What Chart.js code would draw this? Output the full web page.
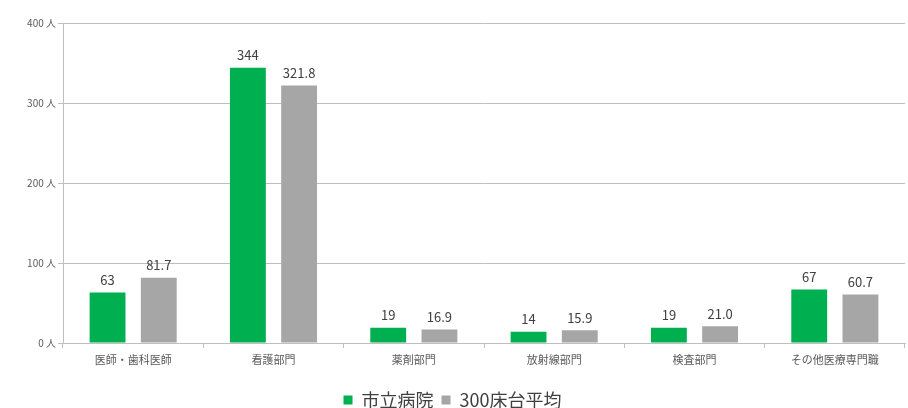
<!DOCTYPE html>
<html>
<head>
<meta charset="utf-8">
<script src="https://cdn.jsdelivr.net/npm/chart.js@4"></script>
<style>
  html, body { margin: 0; padding: 0; background: #fff; }
  #chart { display: block; }
</style>
</head>
<body>
<canvas id="chart" width="908" height="408"></canvas>
<script>
const categories = ['医師・歯科医師', '看護部門', '薬剤部門', '放射線部門', '検査部門', 'その他医療専門職'];
const cityHospital = [63, 344, 19, 14, 19, 67];
const avg300Beds = [81.7, 321.8, 16.9, 15.9, 21.0, 60.7];
const yTicks = [0, 100, 200, 300, 400];

const FONT = "'Noto Sans CJK JP', 'Noto Sans', sans-serif";

// value labels above each bar
const barValues = {
  id: 'barValues',
  afterDatasetsDraw(chart) {
    const ctx = chart.ctx;
    ctx.save();
    ctx.font = '13px ' + FONT;
    ctx.fillStyle = '#404040';
    ctx.textAlign = 'center';
    ctx.textBaseline = 'bottom';
    chart.data.datasets.forEach((ds, i) => {
      chart.getDatasetMeta(i).data.forEach((bar, j) => {
        const v = ds.data[j];
        const txt = i === 1 ? v.toFixed(1) : String(v);
        ctx.fillText(txt, bar.x, bar.y - 6);
      });
    });
    ctx.restore();
  }
};

// push the legend down to the bottom edge
const legendDown = {
  id: 'legendDown',
  afterLayout(chart) {
    if (chart.legend) {
      chart.legend.top += 11;
      chart.legend.bottom += 11;
    }
  }
};

new Chart(document.getElementById('chart'), {
  type: 'bar',
  data: {
    labels: categories,
    datasets: [
      { label: '市立病院', data: cityHospital, backgroundColor: '#00b050' },
      { label: '300床台平均', data: avg300Beds, backgroundColor: '#a6a6a6' }
    ]
  },
  options: {
    responsive: false,
    animation: false,
    categoryPercentage: 0.73,
    barPercentage: 0.7,
    layout: { padding: { top: 23, right: 3 } },
    plugins: {
      legend: {
        position: 'bottom',
        labels: {
          boxWidth: 9,
          boxHeight: 9,
          padding: 8,
          color: '#404040',
          font: { size: 18, family: FONT }
        }
      },
      tooltip: { enabled: false }
    },
    scales: {
      x: {
        grid: { display: true, drawOnChartArea: false, offset: true, color: '#bfbfbf', tickLength: 5 },
        border: { color: '#bfbfbf' },
        ticks: { color: '#595959', font: { size: 11, family: FONT }, padding: 5 },
        afterFit(scale) { scale.height = 29; }
      },
      y: {
        min: 0,
        max: 400,
        afterBuildTicks(scale) { scale.ticks = yTicks.map(v => ({ value: v })); },
        grid: { color: '#bfbfbf', tickLength: 5 },
        border: { color: '#bfbfbf' },
        ticks: {
          color: '#595959',
          font: { size: 10, family: FONT },
          padding: 2,
          callback: v => v + ' 人'
        },
        afterFit(scale) { scale.width = 63; }
      }
    }
  },
  plugins: [barValues, legendDown]
});
</script>
</body>
</html>
